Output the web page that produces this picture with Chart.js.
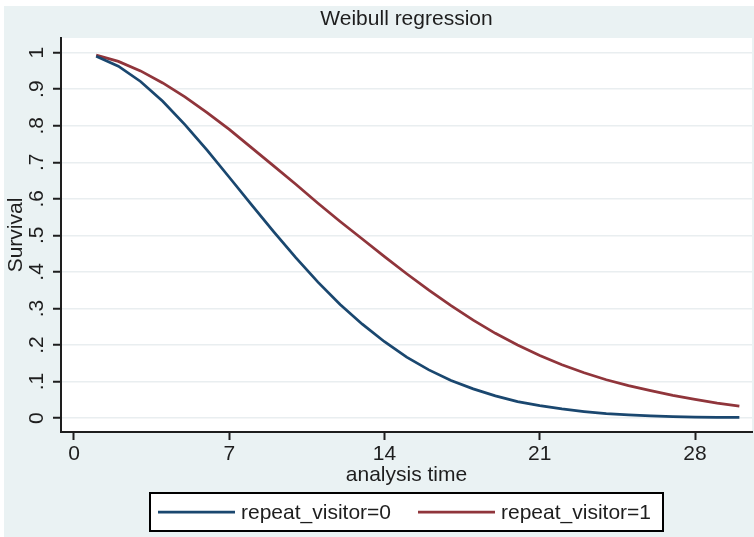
<!DOCTYPE html>
<html>
<head>
<meta charset="utf-8">
<script src="https://cdn.jsdelivr.net/npm/chart.js@4/dist/chart.umd.min.js"></script>
<style>
  html, body { margin: 0; padding: 0; background: #fff; }
  #wrap { width: 754px; height: 537px; }
</style>
</head>
<body>
<div id="wrap"><canvas id="survChart" width="754" height="537"></canvas></div>
<script>
// --- DATA ---
const analysisTime = [1,2,3,4,5,6,7,8,9,10,11,12,13,14,15,16,17,18,19,20,21,22,23,24,25,26,27,28,29,30];
const survVisitor0 = [0.990,0.963,0.921,0.867,0.803,0.733,0.659,0.584,0.510,0.439,0.372,0.311,0.257,0.209,0.167,0.132,0.103,0.080,0.061,0.045,0.034,0.025,0.018,0.012,0.009,0.006,0.004,0.003,0.002,0.002];
const survVisitor1 = [0.993,0.976,0.950,0.917,0.879,0.836,0.790,0.740,0.690,0.640,0.588,0.538,0.490,0.442,0.395,0.350,0.308,0.268,0.232,0.200,0.171,0.146,0.124,0.105,0.089,0.075,0.062,0.051,0.041,0.033];
const xTicks = [0, 7, 14, 21, 28];
const yTicks = [0, 0.1, 0.2, 0.3, 0.4, 0.5, 0.6, 0.7, 0.8, 0.9, 1];
const yTickLabels = ['0', '.1', '.2', '.3', '.4', '.5', '.6', '.7', '.8', '.9', '1'];
const seriesNames = ['repeat_visitor=0', 'repeat_visitor=1'];

// --- STYLE ---
const FONT = '"Liberation Sans", Arial, sans-serif';
const FSIZE = 21;
const BG = '#eaf2f3';
const INK = '#1e1e1e';
const BLUE = '#1a476f', RED = '#90353b';

function toPoints(ys) { return analysisTime.map((t, i) => ({ x: t, y: ys[i] })); }

// background, titles, rotated y labels, legend box
const stataDecor = {
  id: 'stataDecor',
  beforeDraw(chart) {
    const ctx = chart.ctx, a = chart.chartArea;
    ctx.save();
    ctx.fillStyle = '#fff';
    ctx.fillRect(0, 0, chart.width, chart.height);
    ctx.fillStyle = BG;
    ctx.fillRect(4, 6, chart.width - 4, chart.height - 6);
    ctx.fillStyle = '#fff';
    ctx.fillRect(a.left, a.top, a.right - a.left, a.bottom - a.top);
    ctx.restore();
  },
  afterDraw(chart) {
    const ctx = chart.ctx, a = chart.chartArea, yScale = chart.scales.y;
    const midX = (a.left + a.right) / 2;
    ctx.save();
    ctx.fillStyle = INK;
    ctx.font = FSIZE + 'px ' + FONT;
    ctx.textAlign = 'center';
    ctx.textBaseline = 'alphabetic';
    ctx.fillText('Weibull regression', midX, 25);
    ctx.fillText('analysis time', midX, 481);

    // rotated y tick labels
    yTicks.forEach((v, i) => {
      ctx.save();
      ctx.translate(43, yScale.getPixelForValue(v));
      ctx.rotate(-Math.PI / 2);
      ctx.fillText(yTickLabels[i], 0, 0);
      ctx.restore();
    });
    ctx.save();
    ctx.translate(22, (a.top + a.bottom) / 2);
    ctx.rotate(-Math.PI / 2);
    ctx.fillText('Survival', 0, 0);
    ctx.restore();

    // legend
    ctx.fillStyle = '#fff';
    ctx.fillRect(150, 493, 513, 38);
    ctx.strokeStyle = '#000';
    ctx.lineWidth = 2;
    ctx.strokeRect(150, 493, 513, 38);
    const items = [{ x: 158, color: BLUE }, { x: 418, color: RED }];
    items.forEach((it, i) => {
      ctx.strokeStyle = it.color;
      ctx.lineWidth = 2.75;
      ctx.beginPath();
      ctx.moveTo(it.x, 512);
      ctx.lineTo(it.x + 77, 512);
      ctx.stroke();
      ctx.fillStyle = INK;
      ctx.textAlign = 'left';
      ctx.fillText(seriesNames[i], it.x + 83, 519);
    });
    ctx.restore();
  }
};

new Chart(document.getElementById('survChart'), {
  type: 'line',
  data: {
    datasets: [
      { label: seriesNames[0], data: toPoints(survVisitor0), borderColor: BLUE, borderWidth: 2.75, pointRadius: 0, tension: 0 },
      { label: seriesNames[1], data: toPoints(survVisitor1), borderColor: RED, borderWidth: 2.75, pointRadius: 0, tension: 0 }
    ]
  },
  options: {
    responsive: false,
    animation: false,
    layout: { padding: { left: 0, top: 38, right: 2, bottom: 0 } },
    plugins: { legend: { display: false }, title: { display: false }, tooltip: { enabled: false } },
    scales: {
      x: {
        type: 'linear',
        min: -0.586, max: 30.57,
        afterBuildTicks: s => { s.ticks = xTicks.map(v => ({ value: v })); },
        afterFit: s => { s.height = 105; },
        grid: { drawOnChartArea: false, tickLength: 8, tickColor: INK, tickWidth: 2 },
        border: { color: INK, width: 2 },
        ticks: { color: INK, font: { family: FONT, size: FSIZE }, padding: 2, maxRotation: 0 }
      },
      y: {
        type: 'linear',
        min: -0.038, max: 1.040,
        afterBuildTicks: s => { s.ticks = yTicks.map(v => ({ value: v })); },
        afterFit: s => { s.width = 61; },
        grid: { color: '#e9eef0', lineWidth: 1.5, tickLength: 8, tickColor: INK, tickWidth: 2 },
        border: { color: INK, width: 2 },
        ticks: { display: false }
      }
    }
  },
  plugins: [stataDecor]
});
</script>
</body>
</html>
